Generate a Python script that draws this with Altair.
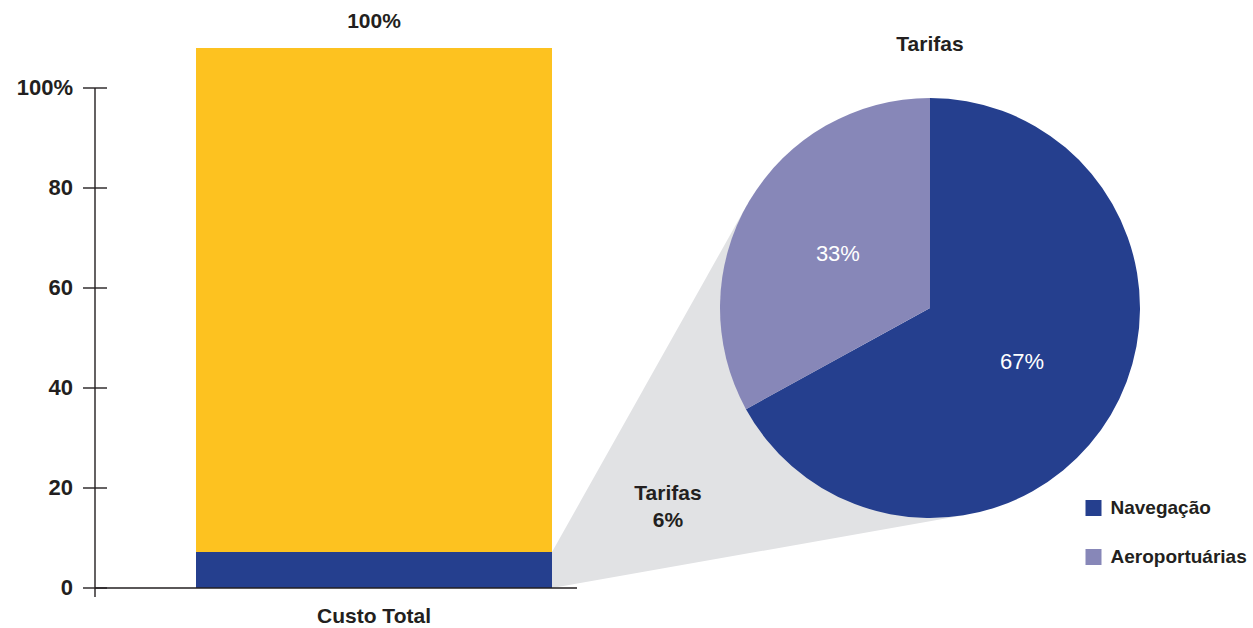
import math
import altair as alt
import pandas as pd

W, H = 1253, 628

bar_category = "Custo Total"
bar_series = ["Tarifas", "Outros custos"]
bar_values = [7.2, 100.8]
bar_total_label = "100%"
tarifas_share_label = ["Tarifas", "6%"]

y_ticks = [0, 20, 40, 60, 80, 100]
y_tick_labels = ["0", "20", "40", "60", "80", "100%"]

pie_title = "Tarifas"
pie_categories = ["Navegação", "Aeroportuárias"]
pie_values = [67, 33]
pie_labels = ["67%", "33%"]

BLUE = "#253F8E"
YELLOW = "#FDC220"
LILAC = "#8787B8"
GRAY = "#E1E2E4"
INK = "#231F20"
FONT = "Liberation Sans"
FW = "bold"
FS = 21

zero_px, hundred_px = 588, 88
ppu = (zero_px - hundred_px) / 100.0
y_dom = [-(H - zero_px) / ppu, zero_px / ppu]
bar_left, bar_right = 196, 552
bar_mid = (bar_left + bar_right) / 2
axis_x = 95
pie_cx, pie_cy, pie_r = 930, 308, 210
legend_x, legend_y0, legend_dy = 1093.5, 508, 49


def ypx(v):
    return zero_px - v * ppu


def yval(p):
    return (zero_px - p) / ppu


yscale = alt.Scale(domain=y_dom, range=[H, 0], nice=False, zero=False)
xscale = alt.Scale(domain=[0, W], range=[0, W], nice=False, zero=False)
cscale = alt.Scale(domain=pie_categories + bar_series, range=[BLUE, LILAC, BLUE, YELLOW])


def Y(field):
    return alt.Y(field, scale=yscale, axis=None, title=None)


bar_df = pd.DataFrame({"series": bar_series, "value": bar_values, "rank": list(range(len(bar_values)))})
bars = alt.Chart(bar_df).transform_stack(
    stack="value", as_=["v0", "v1"], groupby=[], sort=[alt.SortField("rank", order="ascending")]
).mark_bar().encode(
    x=alt.value(bar_left),
    x2=alt.value(bar_right),
    y=Y("v1:Q"),
    y2="v0:Q",
    color=alt.Color("series:N", scale=cscale, legend=None),
)

total_df = pd.DataFrame({"total": [sum(bar_values)], "label": [bar_total_label]})
total_text = alt.Chart(total_df).mark_text(
    dy=-26, font=FONT, fontSize=FS, fontWeight=FW, color=INK, baseline="middle"
).encode(x=alt.value(bar_mid), y=Y("total:Q"), text="label:N")

cat_text = alt.Chart(pd.DataFrame({"cat": [bar_category]})).mark_text(
    font=FONT, fontSize=FS, fontWeight=FW, color=INK, baseline="middle"
).encode(x=alt.value(bar_mid), y=alt.value(617), text="cat:N")

tick_df = pd.DataFrame({"v": y_ticks, "label": y_tick_labels})
tick_rules = alt.Chart(tick_df).mark_rule(color=INK, strokeWidth=1.4).encode(
    x=alt.value(axis_x - 12), x2=alt.value(axis_x + 12), y=Y("v:Q")
)
tick_text = alt.Chart(tick_df).mark_text(
    align="right", baseline="middle", font=FONT, fontSize=22, fontWeight=FW, color=INK
).encode(x=alt.value(73), y=Y("v:Q"), text="label:N")

dom_df = pd.DataFrame({"a": [max(y_ticks)], "b": [yval(597)]})
y_domain = alt.Chart(dom_df).mark_rule(color=INK, strokeWidth=1.4).encode(
    x=alt.value(axis_x), y=Y("a:Q"), y2="b:Q"
)
x_domain = alt.Chart(pd.DataFrame({"a": [0]})).mark_rule(color=INK, strokeWidth=1.4).encode(
    x=alt.value(axis_x), x2=alt.value(577), y=Y("a:Q")
)


def tangent(px, py, sign):
    dx, dy = px - pie_cx, py - pie_cy
    d = math.hypot(dx, dy)
    a = math.acos(pie_r / d)
    b = math.atan2(dy, dx)
    t = b + sign * a
    return pie_cx + pie_r * math.cos(t), pie_cy + pie_r * math.sin(t)


top_px = ypx(bar_values[0])
bot_px = ypx(0)
tu = tangent(bar_right, top_px, +1)
tl = tangent(bar_right, bot_px, -1)


def lower_at(x):
    return bot_px + (x - bar_right) * (tl[1] - bot_px) / (tl[0] - bar_right)


xs = [bar_right, tu[0], tl[0]]
ups = [top_px, tu[1], tl[1]]
conn_df = pd.DataFrame({
    "px": xs,
    "up": [yval(p) for p in ups],
    "lo": [yval(lower_at(x)) for x in xs],
})
connector = alt.Chart(conn_df).mark_area(color=GRAY).encode(
    x=alt.X("px:Q", scale=xscale, axis=None, title=None),
    y=Y("up:Q"),
    y2="lo:Q",
)

pie_df = pd.DataFrame({"cat": pie_categories, "value": pie_values, "label": pie_labels,
                       "rank": list(range(len(pie_values)))})
pie_base = alt.Chart(pie_df).encode(
    theta=alt.Theta("value:Q", stack=True),
    order=alt.Order("rank:Q"),
    x=alt.value(pie_cx),
    y=alt.value(pie_cy),
)
pie = pie_base.mark_arc(radius=pie_r).encode(color=alt.Color("cat:N", scale=cscale, legend=None))
pie_text = pie_base.mark_text(radius=107, color="white", font=FONT, fontSize=22, baseline="middle").encode(
    text="label:N"
)

pie_title_text = alt.Chart(pd.DataFrame({"t": [pie_title]})).mark_text(
    font=FONT, fontSize=FS, fontWeight=FW, color=INK, baseline="middle"
).encode(x=alt.value(pie_cx), y=alt.value(45), text="t:N")

share_df = pd.DataFrame({"t": ["\n".join(tarifas_share_label)]})
share_text = alt.Chart(share_df).mark_text(
    font=FONT, fontSize=FS, fontWeight=FW, color=INK, baseline="middle", lineHeight=27, lineBreak="\n",
).encode(x=alt.value(668), y=alt.value(494), text="t:N")

legend_layers = []
for i, c in enumerate(pie_categories):
    src = alt.Chart(pd.DataFrame({"cat": [c]}))
    legend_layers.append(
        src.mark_square(size=256, opacity=1).encode(
            x=alt.value(legend_x), y=alt.value(legend_y0 + i * legend_dy),
            color=alt.Color("cat:N", scale=cscale, legend=None),
        )
    )
    legend_layers.append(
        src.mark_text(align="left", baseline="middle", font=FONT, fontSize=19, fontWeight=FW, color=INK).encode(
            x=alt.value(legend_x + 17), y=alt.value(legend_y0 + i * legend_dy), text="cat:N"
        )
    )

chart = alt.layer(
    connector, bars, total_text, cat_text, tick_rules, tick_text, y_domain, x_domain,
    pie, pie_text, pie_title_text, share_text, *legend_layers,
).properties(
    width=W, height=H,
    autosize=alt.AutoSizeParams(type="fit", contains="padding"),
    padding=0,
).configure_view(strokeWidth=0)

chart.save("out.html", embed_options={"renderer": "svg", "actions": False})
